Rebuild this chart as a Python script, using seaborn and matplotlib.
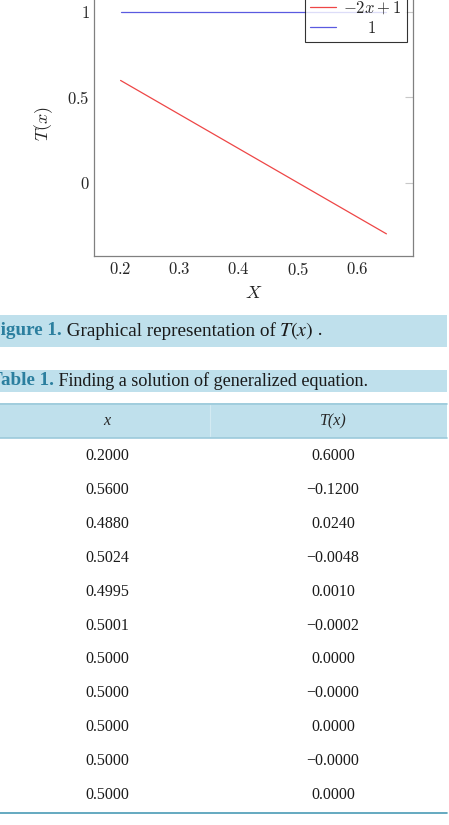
import numpy as np
import pandas as pd
import matplotlib
matplotlib.use("Agg")
import matplotlib.pyplot as plt
import seaborn as sns
from matplotlib.patches import Rectangle

# ---- data ----
line_x = [0.2, 0.65]
red_y = [0.6, -0.3]          # -2x + 1
blue_y = [1.0, 1.0]          # 1
series = ["$-2x+1$", r"$\quad\ \ 1$"]

x_ticks = [0.2, 0.3, 0.4, 0.5, 0.6]
y_ticks = [0, 0.5, 1]

tab_x = ["0.2000", "0.5600", "0.4880", "0.5024", "0.4995", "0.5001",
         "0.5000", "0.5000", "0.5000", "0.5000", "0.5000"]
tab_T = ["0.6000", "\u22120.1200", "0.0240", "\u22120.0048", "0.0010", "\u22120.0002",
         "0.0000", "\u22120.0000", "0.0000", "\u22120.0000", "0.0000"]

df = pd.DataFrame({
    "x": line_x + line_x,
    "y": red_y + blue_y,
    "s": [series[0]] * 2 + [series[1]] * 2,
})

sns.set_style("white")
plt.rcParams["mathtext.fontset"] = "cm"
plt.rcParams["font.family"] = ["Liberation Serif", "DejaVu Serif"]

W, H = 449, 825
fig = plt.figure(figsize=(W / 100, H / 100), dpi=100)

# plot axes (top edge runs past the image top like the original crop)
ax_l, ax_r, ax_b, ax_t = 94, 413, 256, -9.9
ax = fig.add_axes([ax_l / W, 1 - ax_b / H, (ax_r - ax_l) / W, (ax_b - ax_t) / H])
sns.lineplot(data=df, x="x", y="y", hue="s", palette=["#ee4646", "#5a5ae0"],
             linewidth=0.9, ax=ax, legend=False)
ax.set_xlim(0.155, 0.695)
ax.set_ylim(-0.43, 1.13)
ax.set_xticks(x_ticks)
ax.set_xticklabels([f"${v:g}$" for v in x_ticks])
ax.set_yticks(y_ticks)
ax.set_yticklabels([f"${v:g}$" for v in y_ticks])
ax.tick_params(direction="in", length=6, color="#c8c8c8", width=0.8,
               top=True, right=True, labelsize=12, pad=4)
ax.tick_params(axis="y", pad=3)
for sp in ax.spines.values():
    sp.set_color("#808080")
    sp.set_linewidth(0.9)
ax.set_xlabel("$X$", fontsize=13, labelpad=5)
ax.set_ylabel("$T(x)$", fontsize=13, labelpad=9)

handles = [plt.Line2D([], [], color="#ee4646", lw=0.9),
           plt.Line2D([], [], color="#5a5ae0", lw=0.9)]
leg = ax.legend(handles, series, loc="upper right", bbox_to_anchor=(0.98, 0.98),
                borderaxespad=0, fontsize=12, frameon=True, fancybox=False,
                handlelength=1.6, labelspacing=0.25, borderpad=0.3, handletextpad=0.4)
leg.get_frame().set_edgecolor("black")
leg.get_frame().set_linewidth(0.8)

# ---- caption / table layer in pixel coordinates ----
lay = fig.add_axes([0, 0, 1, 1], facecolor="none")
lay.set_xlim(0, W)
lay.set_ylim(H, 0)
lay.axis("off")

band = "#bfe0ec"
teal = "#2b7f9f"

def caption(y0, y1, label, label_end, rest, size, math=None):
    lay.add_patch(Rectangle((0, y0), 446.7, y1 - y0, color=band, lw=0))
    yc = (y0 + y1) / 2
    t1 = lay.text(label_end, yc, label, color=teal, fontsize=13.8, fontweight="bold",
                  va="center", ha="right")
    t2 = lay.annotate(" " + rest, xy=(1, 0.5), xycoords=t1, va="center", ha="left",
                      fontsize=size, color="#1a1a1a")
    if math:
        t3 = lay.annotate(math, xy=(1, 0.5), xycoords=t2, xytext=(3, 0),
                          textcoords="offset pixels", va="center", ha="left",
                          fontsize=size + 0.5, color="#1a1a1a", math_fontfamily="stix")
        lay.annotate(" .", xy=(1, 0.5), xycoords=t3, va="center", ha="left",
                     fontsize=size, color="#1a1a1a")

caption(315, 346.7, "Figure 1.", 62, "Graphical representation of", 13.8,
        r"$T\left(x\right)$")
caption(370, 391.7, "Table 1.", 53.5, "Finding a solution of generalized equation.", 13.1)

# table header
lay.add_patch(Rectangle((0, 403), 446.7, 35, color=band, lw=0))
lay.plot([0, 446.7], [403.5, 403.5], color="#9ccadb", lw=1.2)
lay.plot([0, 446.7], [437.5, 437.5], color="#9ccadb", lw=1.2)
lay.plot([210, 210], [405, 436], color="#d3eaf2", lw=0.8)
col_x = [107, 333]
lay.text(col_x[0], 421, "x", fontsize=11.5, style="italic", ha="center", va="center")
lay.text(col_x[1], 421, "T(x)", fontsize=11.5, style="italic", ha="center", va="center")

# table rows
for i, (a, b) in enumerate(zip(tab_x, tab_T)):
    y = 456 + 33.9 * i
    lay.text(col_x[0], y, a, fontsize=11.5, ha="center", va="center", color="#1a1a1a")
    lay.text(col_x[1], y, b, fontsize=11.5, ha="center", va="center", color="#1a1a1a")

lay.plot([0, 446.7], [813.3, 813.3], color="#4a9bb5", lw=1.2)

fig.savefig("out.png", dpi=100)
